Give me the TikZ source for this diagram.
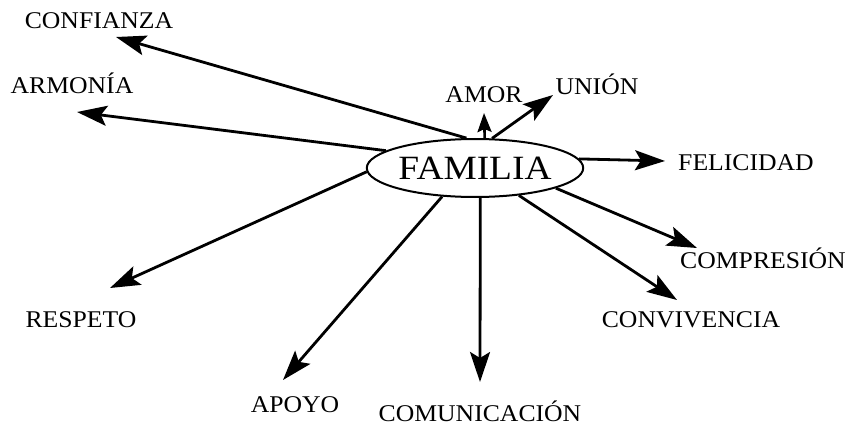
\documentclass[tikz,border=0pt]{standalone}
\usepackage{fontspec}
\setmainfont{Liberation Serif}
\usetikzlibrary{arrows.meta,shapes.geometric}
\newcommand{\lab}[1]{\scalebox{1.07}[1]{\fontsize{24}{24}\selectfont #1}}
\tikzset{
  lbl/.style={anchor=base, inner sep=0pt},
  link/.style={line width=2.8pt, -{Stealth[length=30pt,width=20pt,inset=6pt]}},
  smalllink/.style={line width=2.6pt, -{Stealth[length=19pt,width=14pt,inset=3pt]}},
  hub/.style={ellipse, draw, line width=2pt, minimum width=184pt, minimum height=58pt, inner sep=0pt}
}
\begin{document}
\begin{tikzpicture}[x=1pt,y=-1pt]
\useasboundingbox (0,0) rectangle (854,425);
\node[hub] (fam) at (475,168) {\scalebox{1.1}[1]{\fontsize{34}{34}\selectfont FAMILIA}};

\node[lbl] (confianza) at (99,29) {\lab{CONFIANZA}};
\node[lbl] (armonia) at (72,94) {\lab{ARMONÍA}};
\node[lbl] (amor) at (484,103) {\lab{AMOR}};
\node[lbl] (union) at (597,95) {\lab{UNIÓN}};
\node[lbl] (felicidad) at (746,170) {\lab{FELICIDAD}};
\node[lbl] (compresion) at (763,268) {\lab{COMPRESIÓN}};
\node[lbl] (convivencia) at (691,327) {\lab{CONVIVENCIA}};
\node[lbl] (comunicacion) at (480,421) {\lab{COMUNICACIÓN}};
\node[lbl] (apoyo) at (295,412) {\lab{APOYO}};
\node[lbl] (respeto) at (81,327) {\lab{RESPETO}};

\coordinate (tconf) at (116,37);
\coordinate (tarm) at (77,112);
\coordinate (tamor) at (484,113);
\coordinate (tunion) at (553,95);
\coordinate (tfel) at (665,161);
\coordinate (tcomp) at (697,248);
\coordinate (tconv) at (677,300);
\coordinate (tcomu) at (480,382);
\coordinate (tapoyo) at (283,380);
\coordinate (tresp) at (110,288);

\draw[link] (fam.106) -- (tconf);
\draw[link] (fam.169) -- (tarm);
\draw[smalllink] (fam.72) -- (tamor);
\draw[link] (fam.60) -- (tunion);
\draw[link] (fam.5) -- (tfel);
\draw[link] (fam.-14) -- (tcomp);
\draw[link] (fam.-32) -- (tconv);
\draw[link] (fam.-80) -- (tcomu);
\draw[link] (fam.-139) -- (tapoyo);
\draw[link] (fam.-178) -- (tresp);
\end{tikzpicture}
\end{document}
